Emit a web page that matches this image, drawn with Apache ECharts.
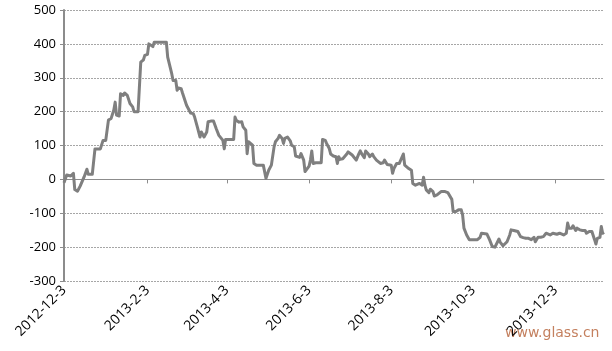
<!DOCTYPE html>
<html>
<head>
<meta charset="utf-8">
<script src="https://cdn.jsdelivr.net/npm/echarts@6/dist/echarts.min.js"></script>
<style>
html, body { margin: 0; padding: 0; background: #fff; }
#main { width: 612px; height: 351px; }
</style>
</head>
<body>
<div id="main"></div>
<script>
// x axis runs day by day from this date
var startDate = [2012, 12, 3];
var dayCount = 402;
var tickLabels = ['2012-12-3', '2013-2-3', '2013-4-3', '2013-6-3', '2013-8-3', '2013-10-3', '2013-12-3'];
var yTicks = [-300, -200, -100, 0, 100, 200, 300, 400, 500];

// turning points of the line: day offset from start and value
var dayIdx = [0, 2, 5, 6, 7, 8, 10, 12, 13, 15, 17, 18, 21, 23, 24, 27, 29, 31, 33, 35,
	37, 38, 39, 41, 42, 44, 45, 47, 48, 49, 51, 52, 55, 57, 59, 60, 62, 63, 64, 66,
	67, 76, 77, 78, 80, 81, 83, 84, 85, 87, 88, 89, 91, 92, 94, 96, 97, 99, 101, 102,
	103, 104, 106, 107, 109, 111, 113, 115, 116, 118, 119, 120, 123, 126, 127, 128, 130, 132, 133, 135,
	136, 137, 138, 140, 141, 143, 145, 148, 149, 150, 152, 153, 154, 156, 157, 159, 160, 162, 163, 164,
	166, 168, 169, 171, 172, 173, 175, 176, 178, 179, 180, 182, 183, 184, 185, 187, 189, 191, 192, 194,
	195, 197, 198, 200, 202, 203, 204, 205, 207, 208, 210, 211, 212, 214, 215, 217, 219, 220, 221, 223,
	224, 226, 227, 229, 230, 232, 233, 235, 237, 238, 240, 241, 243, 244, 245, 247, 249, 250, 252, 253,
	254, 256, 258, 259, 261, 262, 264, 266, 267, 268, 269, 271, 272, 274, 275, 277, 278, 280, 281, 283,
	285, 286, 288, 289, 291, 293, 295, 296, 297, 299, 301, 304, 307, 309, 310, 314, 316, 318, 320, 321,
	323, 324, 326, 327, 329, 331, 332, 334, 337, 339, 341, 343, 345, 347, 349, 350, 352, 354, 356, 358,
	359, 361, 363, 366, 368, 371, 373, 374, 375, 377, 378, 380, 381, 383, 385, 387, 388, 390, 392, 394,
	395, 396, 398, 399, 400, 401];
var values = [-10, 13, 10, 15, 18, -30, -35, -20, -17, 8, 30, 15, 15, 90, 90, 90, 115, 115, 175, 180,
	205, 228, 190, 187, 253, 248, 255, 248, 243, 224, 214, 200, 200, 346, 353, 366, 369, 400, 405, 392,
	405, 405, 361, 356, 312, 292, 292, 263, 270, 268, 255, 255, 219, 214, 196, 194, 184, 155, 125, 140,
	140, 125, 140, 170, 172, 172, 150, 130, 125, 115, 90, 118, 118, 118, 184, 174, 169, 170, 155, 145,
	76, 111, 114, 101, 47, 42, 42, 42, 37, 3, 27, 32, 42, 96, 111, 121, 130, 121, 106, 121,
	125, 114, 101, 96, 69, 67, 65, 76, 57, 23, 20, 39, 57, 84, 47, 49, 49, 49, 118, 115,
	106, 91, 75, 69, 67, 47, 67, 59, 61, 59, 75, 81, 76, 72, 67, 57, 76, 84, 76, 64,
	84, 75, 67, 75, 67, 57, 52, 47, 49, 57, 44, 47, 42, 18, 32, 47, 47, 52, 75, 42,
	37, 32, 27, -12, -17, -17, -12, -17, 6, -17, -31, -39, -29, -36, -49, -46, -41, -36, -31, -36,
	-39, -41, -59, -95, -95, -90, -90, -105, -144, -164, -178, -178, -178, -171, -159, -161, -178, -198, -200, -200,
	-176, -186, -196, -200, -184, -164, -149, -151, -154, -169, -172, -174, -174, -178, -171, -184, -171, -171, -169, -159,
	-164, -164, -159, -162, -159, -164, -159, -129, -144, -144, -137, -151, -144, -149, -151, -151, -159, -154, -154, -178,
	-191, -174, -171, -139, -159, -156];

var categories = [];
var d0 = new Date(startDate[0], startDate[1] - 1, startDate[2]);
for (var i = 0; i < dayCount; i++) {
	var d = new Date(d0.getFullYear(), d0.getMonth(), d0.getDate() + i);
	categories.push(d.getFullYear() + '-' + (d.getMonth() + 1) + '-' + d.getDate());
}

var seriesData = [];
for (var j = 0; j < dayIdx.length; j++) {
	seriesData.push([dayIdx[j], values[j]]);
}

//只显示两个月一次的刻度
function isTick(idx, val) {
	return tickLabels.indexOf(val) >= 0;
}

var chart = echarts.init(document.getElementById('main'));
var option = {
	animation: false,
	grid: { left: 64, right: 8, top: 10, bottom: 70 },
	xAxis: [{
		type: 'category',
		data: categories,
		boundaryGap: false,
		axisLine: { onZero: true, lineStyle: { color: '#8c8c8c', width: 1 } },
		axisTick: { show: true, interval: isTick, length: 4, lineStyle: { color: '#8c8c8c' } },
		axisLabel: { show: false },
		splitLine: { show: false }
	}, {
		type: 'category',
		data: categories,
		boundaryGap: false,
		position: 'bottom',
		axisLine: { show: false, onZero: false },
		axisTick: { show: false },
		axisLabel: {
			interval: isTick,
			rotate: 45,
			margin: 7,
			color: '#000',
			fontSize: 14,
			fontFamily: 'Open Sans'
		},
		splitLine: { show: false }
	}],
	yAxis: {
		type: 'value',
		min: yTicks[0],
		max: yTicks[yTicks.length - 1],
		interval: 100,
		axisLine: { show: true, lineStyle: { color: '#8c8c8c', width: 2 } },
		axisTick: { show: true, length: 4, lineStyle: { color: '#8c8c8c' } },
		axisLabel: { color: '#000', fontSize: 13, fontFamily: 'Open Sans', margin: 8 },
		splitLine: { show: true, lineStyle: { color: '#a6a6a6', type: [2, 1], width: 1 } }
	},
	series: [{
		type: 'line',
		xAxisIndex: 0,
		data: seriesData,
		showSymbol: false,
		symbol: 'none',
		lineStyle: { color: '#7f7f7f', width: 3, join: 'round' }
	}],
	graphic: [{
		type: 'text',
		left: 505,
		top: 326,
		style: { text: 'www.glass.cn', fill: '#c4805f', font: '14px "DejaVu Sans"' }
	}]
};
chart.setOption(option);
</script>
</body>
</html>
